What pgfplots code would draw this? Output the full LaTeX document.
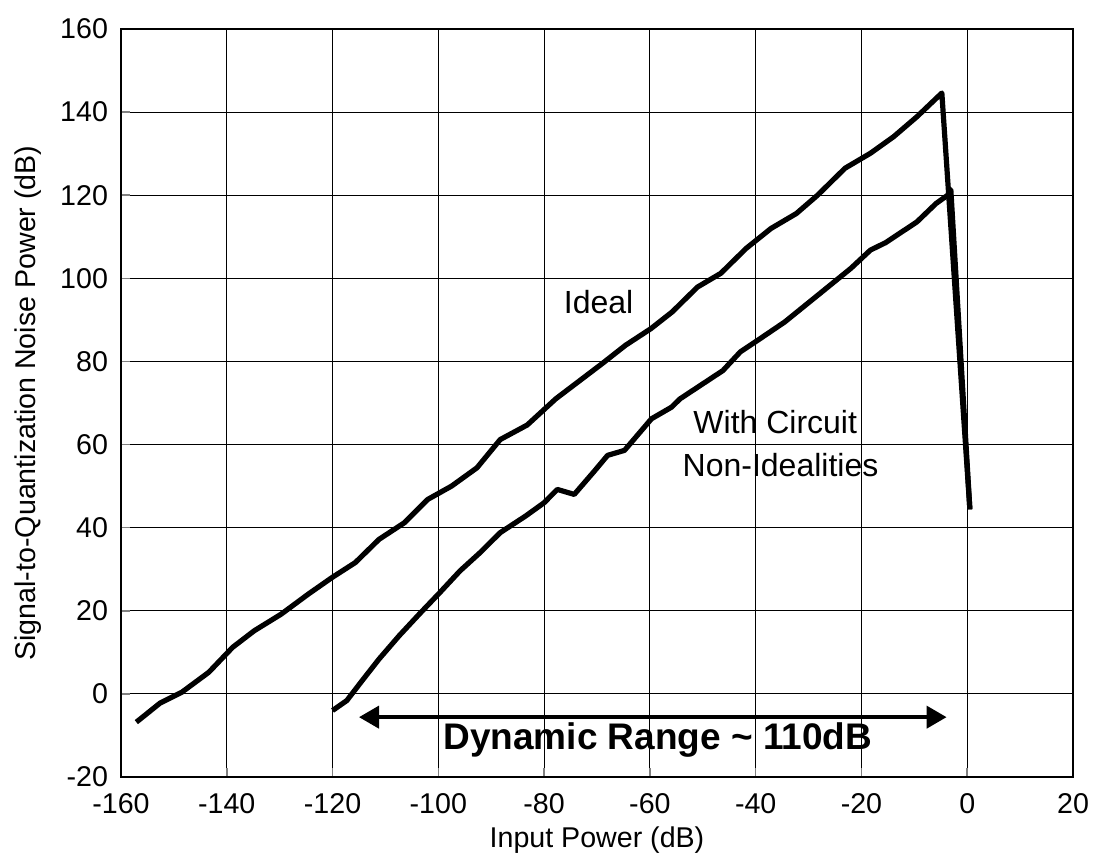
\documentclass[border=0pt]{standalone}
\usepackage{pgfplots}
\pgfplotsset{compat=1.18}
\usepackage{fontspec}
\setmainfont{Liberation Sans}
\usetikzlibrary{arrows.meta}
\begin{document}
\begin{tikzpicture}
\path[use as bounding box] (-60.5pt,-39pt) rectangle (490pt,388.5pt);
\begin{axis}[
  at={(0,0)}, anchor=south west,
  scale only axis, width=476pt, height=374pt,
  xmin=-160, xmax=20, ymin=-20, ymax=160,
  xtick={-160,-140,-120,-100,-80,-60,-40,-20,0,20},
  xticklabels={-160,-140,-120,-100,-80,-60,-40,-20,0,20},
  ytick={-20,0,20,40,60,80,100,120,140,160},
  yticklabels={-20,0,20,40,60,80,100,120,140,160},
  grid=major, grid style={black, line width=0.5pt},
  axis line style={black, line width=1pt},
  tick align=inside, major tick length=4.5pt,
  xtick pos=bottom, ytick pos=left,
  tick style={gray, line width=0.8pt},
  tick label style={font=\fontsize{14.3}{16}\selectfont},
  xticklabel style={yshift=-4.5pt},
  yticklabel style={xshift=-3pt},
  xlabel={Input Power (dB)},
  ylabel={Signal-to-Quantization Noise Power (dB)},
  label style={font=\fontsize{14.3}{16}\selectfont},
  xlabel style={yshift=0pt},
  ylabel style={yshift=2.5pt},
  clip=false,
]
\addplot[black, line width=2.6pt, line join=round] coordinates {
(-157.1,-6.8) (-152.6,-2.2) (-148.5,0.4) (-143.4,5.2) (-138.9,11.2) (-134.8,15.2)
(-129.7,19.2) (-124.6,24.0) (-120.1,28.0) (-115.7,31.6) (-111.2,37.2) (-106.4,41.2)
(-102.0,46.8) (-97.5,50.0) (-92.7,54.4) (-88.3,61.2) (-83.2,64.7) (-77.8,71.0)
(-69.0,79.5) (-64.6,83.9) (-59.8,87.9) (-55.8,91.9) (-51.0,97.9) (-46.6,101.2)
(-41.8,107.2) (-37.1,112.0) (-32.3,115.6) (-28.3,120.0) (-23.1,126.5) (-18.3,130.1)
(-13.9,134.1) (-9.5,138.9) (-4.8,144.6) (0.5,44.4)
};
\addplot[black, line width=2.6pt, line join=round] coordinates {
(-120.0,-4.0) (-117.3,-1.6) (-114.4,3.2) (-111.2,8.4) (-107.4,14.0) (-103.6,19.2)
(-99.7,24.4) (-95.9,29.6) (-92.1,34.0) (-88.3,38.8) (-83.5,42.8) (-80.0,46.0)
(-77.5,49.2) (-74.3,48.0) (-70.5,53.6) (-68.0,57.4) (-64.8,58.6) (-59.7,66.2)
(-55.9,69.0) (-54.3,71.0) (-46.2,77.8) (-42.9,82.3) (-39.6,85.1) (-34.5,89.5)
(-27.9,96.3) (-22.0,102.4) (-18.3,106.8) (-15.4,108.6) (-9.5,113.6) (-5.9,118.0)
(-3.7,120.0) (-3.1,121.3) (0.5,44.4)
};
\addplot[black, line width=2pt, {Triangle[length=10pt,width=11pt]}-{Triangle[length=10pt,width=11pt]}] coordinates {(-115,-5.6) (-3.9,-5.6)};
\node[font=\fontsize{16}{18}\selectfont] at (axis cs:-69.7,94.3) {Ideal};
\node[font=\fontsize{16}{18}\selectfont] at (axis cs:-36.3,65.4) {With Circuit};
\node[font=\fontsize{16}{18}\selectfont] at (axis cs:-35.3,55.0) {Non-Idealities};
\node[font=\fontsize{18.5}{20}\selectfont\bfseries] at (axis cs:-58.5,-11.2) {Dynamic Range \textasciitilde{} 110dB};
\end{axis}
\end{tikzpicture}
\end{document}
